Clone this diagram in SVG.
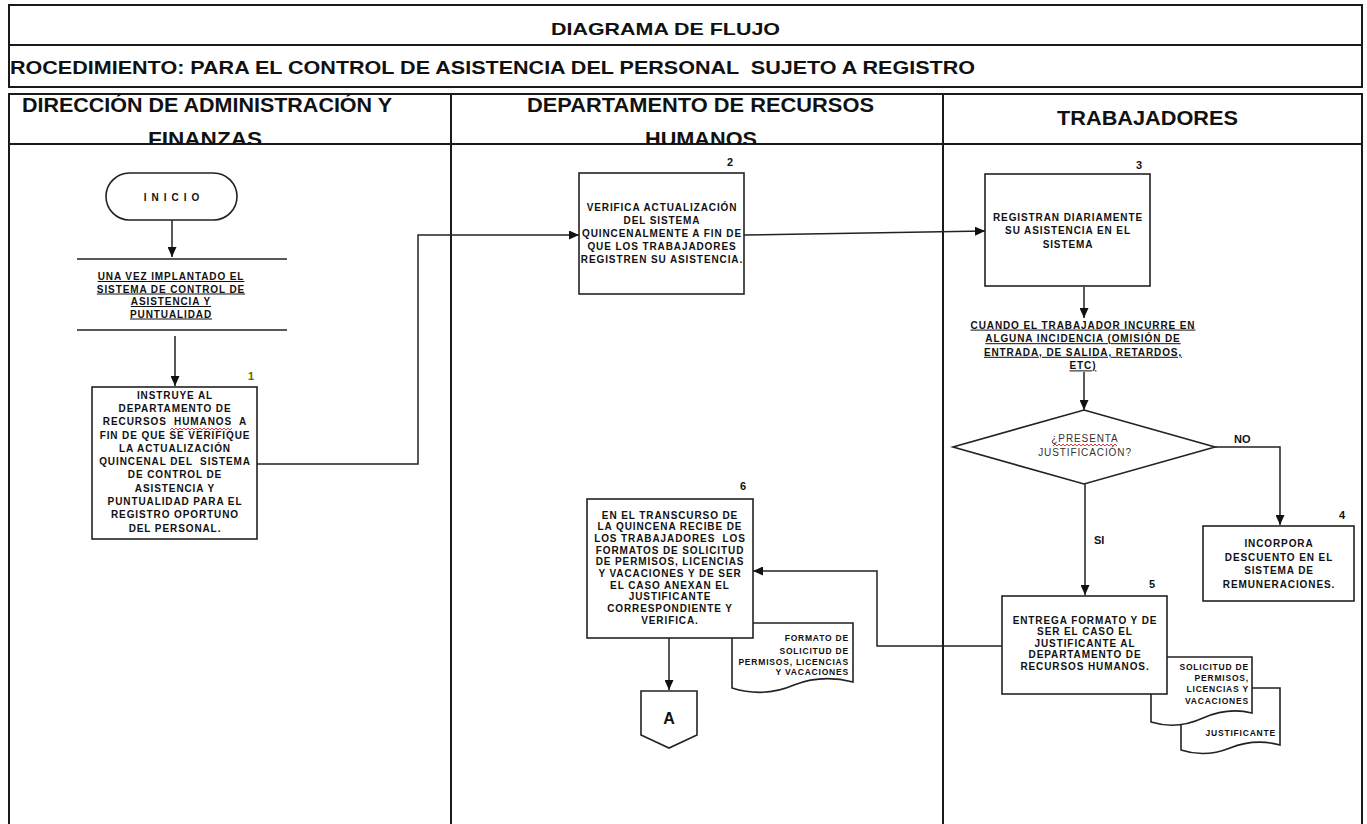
<svg xmlns="http://www.w3.org/2000/svg" width="1367" height="824" viewBox="0 0 1367 824">
<defs>
<marker id="arr" markerUnits="userSpaceOnUse" markerWidth="10" markerHeight="9" refX="10" refY="4.5" orient="auto"><path d="M0,0 L10,4.5 L0,9 Z" fill="#111"/></marker>
<clipPath id="hdrclip"><rect x="9" y="94" width="1353" height="50"/></clipPath>
</defs>
<style>
.frame{fill:none;stroke:#1a1a1a;stroke-width:2}
.box{fill:#fff;stroke:#222;stroke-width:1.6}
.conn{fill:none;stroke:#222;stroke-width:1.5}
.h{font-family:"Liberation Sans",Arial,sans-serif;font-weight:bold;fill:#111;white-space:pre}
.t{font-family:"Liberation Sans",Arial,sans-serif;font-weight:bold;font-size:10px;letter-spacing:0.9px;text-anchor:middle;fill:#111;white-space:pre}
.tn{font-family:"Liberation Sans",Arial,sans-serif;font-weight:normal;font-size:10px;letter-spacing:0.9px;text-anchor:middle;fill:#333}
.u{text-decoration:underline}
.num{font-family:"Liberation Sans",Arial,sans-serif;font-weight:bold;font-size:11px;text-anchor:middle;fill:#111}
.d{font-family:"Liberation Sans",Arial,sans-serif;font-weight:bold;font-size:8.5px;letter-spacing:0.8px;text-anchor:end;fill:#111}
.lbl{font-family:"Liberation Sans",Arial,sans-serif;font-weight:bold;font-size:11px;fill:#111}
.sq{fill:none;stroke:#e02020;stroke-width:0.9}
</style>
<rect width="1367" height="824" fill="#fff"/>

<g id="frame">
<rect class="frame" x="9" y="5" width="1353" height="82"/>
<line class="frame" x1="9" y1="45" x2="1362" y2="45"/>
<rect class="frame" x="9" y="94" width="1353" height="740"/>
<line class="frame" x1="9" y1="144" x2="1362" y2="144"/>
<line class="frame" x1="451" y1="94" x2="451" y2="824"/>
<line class="frame" x1="943" y1="94" x2="943" y2="824"/>
<text class="h" x="551" y="35" font-size="17" textLength="229" lengthAdjust="spacingAndGlyphs">DIAGRAMA DE FLUJO</text>
<text class="h" x="10" y="74" font-size="19" textLength="965" lengthAdjust="spacingAndGlyphs">ROCEDIMIENTO: PARA EL CONTROL DE ASISTENCIA DEL PERSONAL  SUJETO A REGISTRO</text>
<g clip-path="url(#hdrclip)">
<text class="h" x="22" y="112" font-size="20" textLength="370" lengthAdjust="spacingAndGlyphs">DIRECCIÓN DE ADMINISTRACIÓN Y</text>
<text class="h" x="148" y="146" font-size="20" textLength="114" lengthAdjust="spacingAndGlyphs">FINANZAS</text>
<text class="h" x="527" y="112" font-size="20" textLength="347" lengthAdjust="spacingAndGlyphs">DEPARTAMENTO DE RECURSOS</text>
<text class="h" x="645" y="146" font-size="20" textLength="112" lengthAdjust="spacingAndGlyphs">HUMANOS</text>
<text class="h" x="1057" y="125" font-size="20" textLength="181" lengthAdjust="spacingAndGlyphs">TRABAJADORES</text>
</g>
</g>

<g id="connectors">
<path class="conn" d="M172,220 V257" marker-end="url(#arr)"/>
<path class="conn" d="M175,336 V386" marker-end="url(#arr)"/>
<path class="conn" d="M257,464 H418 V235 H579" marker-end="url(#arr)"/>
<path class="conn" d="M744,235 L985,231" marker-end="url(#arr)"/>
<path class="conn" d="M1084,287 V318" marker-end="url(#arr)"/>
<path class="conn" d="M1084,372 V410" marker-end="url(#arr)"/>
<path class="conn" d="M1215,447 H1280 V525" marker-end="url(#arr)"/>
<path class="conn" d="M1085,484 V595" marker-end="url(#arr)"/>
<path class="conn" d="M1002,646 H877 V571 H753" marker-end="url(#arr)"/>
<path class="conn" d="M669,638 V690" marker-end="url(#arr)"/>
<text class="lbl" x="1234" y="443">NO</text>
<text class="lbl" x="1094" y="544">SI</text>
</g>

<g id="inicio">
<rect class="box" x="106" y="173" width="131" height="47" rx="23.5"/>
<text class="t" x="174" y="200.5" style="letter-spacing:5px">INICIO</text>
</g>

<g id="nota-implantado">
<line class="conn" x1="77" y1="259" x2="287" y2="259"/>
<line class="conn" x1="77" y1="330" x2="287" y2="330"/>
<text class="t u" x="171" y="280">UNA VEZ IMPLANTADO EL</text>
<text class="t u" x="171" y="292.5">SISTEMA DE CONTROL DE</text>
<text class="t u" x="171" y="305">ASISTENCIA Y</text>
<text class="t u" x="171" y="317.5">PUNTUALIDAD</text>
</g>

<g id="n1">
<rect class="box" x="92" y="387" width="165" height="152"/>
<text class="num" x="251" y="380" style="fill:#666600">1</text>
<text class="t" x="175" y="398.6">INSTRUYE AL</text>
<text class="t" x="175" y="411.9">DEPARTAMENTO DE</text>
<text class="t" x="175" y="425.2">RECURSOS  HUMANOS  A</text>
<text class="t" x="175" y="438.5">FIN DE QUE SE VERIFIQUE</text>
<text class="t" x="175" y="451.8">LA ACTUALIZACIÓN</text>
<text class="t" x="175" y="465.1">QUINCENAL DEL  SISTEMA</text>
<text class="t" x="175" y="478.4">DE CONTROL DE</text>
<text class="t" x="175" y="491.7">ASISTENCIA Y</text>
<text class="t" x="175" y="505">PUNTUALIDAD PARA EL</text>
<text class="t" x="175" y="518.3">REGISTRO OPORTUNO</text>
<text class="t" x="175" y="531.6">DEL PERSONAL.</text>
<path class="sq" d="M170,430 l2,-2 l2,2 l2,-2 l2,2 l2,-2 l2,2 l2,-2 l2,2 l2,-2 l2,2 l2,-2 l2,2 l2,-2 l2,2 l2,-2 l2,2 l2,-2 l2,2 l2,-2 l2,2 l2,-2 l2,2 l2,-2 l2,2 l2,-2 l2,2 l2,-2 l2,2 l2,-2 l2,2 l2,-2"/>
</g>

<g id="n2">
<rect class="box" x="579" y="173" width="165" height="121"/>
<text class="num" x="730" y="166">2</text>
<text class="t" x="662" y="210.6">VERIFICA ACTUALIZACIÓN</text>
<text class="t" x="662" y="223.6">DEL SISTEMA</text>
<text class="t" x="662" y="236.6">QUINCENALMENTE A FIN DE</text>
<text class="t" x="662" y="249.6">QUE LOS TRABAJADORES</text>
<text class="t" x="662" y="262.6">REGISTREN SU ASISTENCIA.</text>
</g>

<g id="n3">
<rect class="box" x="985" y="174" width="165" height="112"/>
<text class="num" x="1139" y="169">3</text>
<text class="t" x="1068" y="220.6">REGISTRAN DIARIAMENTE</text>
<text class="t" x="1068" y="234">SU ASISTENCIA EN EL</text>
<text class="t" x="1068" y="247.5">SISTEMA</text>
</g>

<g id="nota-incidencia">
<text class="t u" x="1083" y="328.6">CUANDO EL TRABAJADOR INCURRE EN</text>
<text class="t u" x="1083" y="342.2">ALGUNA INCIDENCIA (OMISIÓN DE</text>
<text class="t u" x="1083" y="355.8">ENTRADA, DE SALIDA, RETARDOS,</text>
<text class="t u" x="1083" y="369.4">ETC)</text>
</g>

<g id="decision">
<polygon class="box" points="1084,410 1215,447 1084,484 953,447"/>
<text class="tn" x="1085" y="441.6">¿PRESENTA</text>
<text class="tn" x="1085" y="455.6">JUSTIFICACIÓN?</text>
<path class="sq" d="M1053,446 l2,-2 l2,2 l2,-2 l2,2 l2,-2 l2,2 l2,-2 l2,2 l2,-2 l2,2 l2,-2 l2,2 l2,-2 l2,2 l2,-2 l2,2 l2,-2 l2,2 l2,-2 l2,2 l2,-2 l2,2 l2,-2 l2,2 l2,-2 l2,2 l2,-2 l2,2 l2,-2 l2,2 l2,-2 l2,2"/>
</g>

<g id="n4">
<rect class="box" x="1203" y="526" width="151" height="75"/>
<text class="num" x="1342" y="519">4</text>
<text class="t" x="1279" y="546.6">INCORPORA</text>
<text class="t" x="1279" y="560.6">DESCUENTO EN EL</text>
<text class="t" x="1279" y="573.6">SISTEMA DE</text>
<text class="t" x="1279" y="587.6">REMUNERACIONES.</text>
</g>

<g id="doc-justificante">
<path class="box" d="M1181,688 H1280 V745 Q1255,738 1230,748 Q1205,758 1181,750 Z"/>
<text class="d" x="1276" y="736">JUSTIFICANTE</text>
</g>

<g id="doc-solicitud">
<path class="box" d="M1151,657 H1252 V713 Q1228,707 1203,718 Q1177,730 1151,722 Z"/>
<text class="d" x="1249" y="670">SOLICITUD DE</text>
<text class="d" x="1249" y="681">PERMISOS,</text>
<text class="d" x="1249" y="692">LICENCIAS Y</text>
<text class="d" x="1249" y="704">VACACIONES</text>
</g>

<g id="n5">
<rect class="box" x="1002" y="596" width="165" height="98"/>
<text class="num" x="1152" y="588">5</text>
<text class="t" x="1085" y="623.6">ENTREGA FORMATO Y DE</text>
<text class="t" x="1085" y="635.1">SER EL CASO EL</text>
<text class="t" x="1085" y="646.6">JUSTIFICANTE AL</text>
<text class="t" x="1085" y="658.1">DEPARTAMENTO DE</text>
<text class="t" x="1085" y="669.6">RECURSOS HUMANOS.</text>
</g>

<g id="doc-formato">
<path class="box" d="M732,623 H853 V682 Q822,674 794,685 Q764,698 732,688 Z"/>
<text class="d" x="849" y="641">FORMATO DE</text>
<text class="d" x="849" y="654">SOLICITUD DE</text>
<text class="d" x="849" y="665">PERMISOS, LICENCIAS</text>
<text class="d" x="849" y="675">Y VACACIONES</text>
</g>

<g id="n6">
<rect class="box" x="587" y="499" width="166" height="139"/>
<text class="num" x="743" y="490">6</text>
<text class="t" x="670" y="518.6">EN EL TRANSCURSO DE</text>
<text class="t" x="670" y="530.3">LA QUINCENA RECIBE DE</text>
<text class="t" x="670" y="541.9">LOS TRABAJADORES  LOS</text>
<text class="t" x="670" y="553.6">FORMATOS DE SOLICITUD</text>
<text class="t" x="670" y="565.3">DE PERMISOS, LICENCIAS</text>
<text class="t" x="670" y="576.9">Y VACACIONES Y DE SER</text>
<text class="t" x="670" y="588.6">EL CASO ANEXAN EL</text>
<text class="t" x="670" y="600.3">JUSTIFICANTE</text>
<text class="t" x="670" y="611.9">CORRESPONDIENTE Y</text>
<text class="t" x="670" y="623.6">VERIFICA.</text>
</g>

<g id="conector-a">
<path class="box" d="M641,691 H697 V735 L669,748 L641,735 Z"/>
<text class="h" x="669" y="724" font-size="16" text-anchor="middle">A</text>
</g>
</svg>
